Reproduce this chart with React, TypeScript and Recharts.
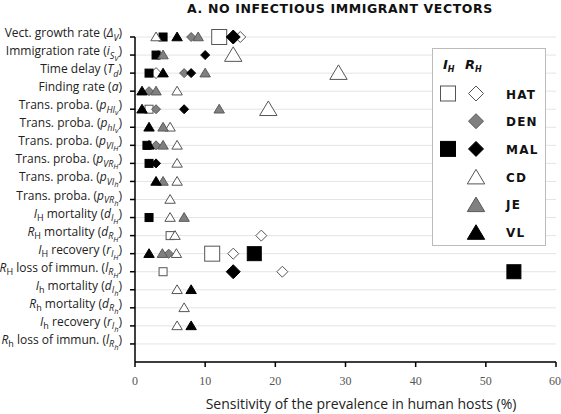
import { ScatterChart, Scatter, XAxis, YAxis, CartesianGrid } from 'recharts';

// Row labels: [text, level (0 normal, 1 sub, 2 sub-sub), italic]
type Seg = [string, number, boolean];
const rowLabels: Seg[][] = [
  [['Vect. growth rate (', 0, false], ['Δ', 0, true], ['V', 1, true], [')', 0, false]],
  [['Immigration rate (', 0, false], ['i', 0, true], ['S', 1, true], ['V', 2, true], [')', 0, false]],
  [['Time delay (', 0, false], ['T', 0, true], ['d', 1, true], [')', 0, false]],
  [['Finding rate (', 0, false], ['a', 0, true], [')', 0, false]],
  [['Trans. proba. (', 0, false], ['p', 0, true], ['HI', 1, true], ['v', 2, true], [')', 0, false]],
  [['Trans. proba. (', 0, false], ['p', 0, true], ['hI', 1, true], ['v', 2, true], [')', 0, false]],
  [['Trans. proba. (', 0, false], ['p', 0, true], ['VI', 1, true], ['H', 2, true], [')', 0, false]],
  [['Trans. proba. (', 0, false], ['p', 0, true], ['VR', 1, true], ['H', 2, true], [')', 0, false]],
  [['Trans. proba. (', 0, false], ['p', 0, true], ['VI', 1, true], ['h', 2, true], [')', 0, false]],
  [['Trans. proba. (', 0, false], ['p', 0, true], ['VR', 1, true], ['h', 2, true], [')', 0, false]],
  [['I', 0, true], ['H', 1, false], [' mortality (', 0, false], ['d', 0, true], ['I', 1, true], ['H', 2, true], [')', 0, false]],
  [['R', 0, true], ['H', 1, false], [' mortality (', 0, false], ['d', 0, true], ['R', 1, true], ['H', 2, true], [')', 0, false]],
  [['I', 0, true], ['H', 1, false], [' recovery (', 0, false], ['r', 0, true], ['I', 1, true], ['H', 2, true], [')', 0, false]],
  [['R', 0, true], ['H', 1, false], [' loss of immun. (', 0, false], ['l', 0, true], ['R', 1, true], ['H', 2, true], [')', 0, false]],
  [['I', 0, true], ['h', 1, false], [' mortality (', 0, false], ['d', 0, true], ['I', 1, true], ['h', 2, true], [')', 0, false]],
  [['R', 0, true], ['h', 1, false], [' mortality (', 0, false], ['d', 0, true], ['R', 1, true], ['h', 2, true], [')', 0, false]],
  [['I', 0, true], ['h', 1, false], [' recovery (', 0, false], ['r', 0, true], ['I', 1, true], ['h', 2, true], [')', 0, false]],
  [['R', 0, true], ['h', 1, false], [' loss of immun. (', 0, false], ['l', 0, true], ['R', 1, true], ['h', 2, true], [')', 0, false]],
];

const xTicks = [0, 10, 20, 30, 40, 50, 60];
const yTicks = [1, 2, 3, 4, 5, 6, 7, 8, 9, 10, 11, 12, 13, 14, 15, 16, 17, 18];

const _ = null;
// sensitivity (%) per row, one array per series
const hatIH = [12, _, _, _, 2, _, _, _, _, _, _, 5, 11, 4, _, _, _, _];
const hatRH = [15, _, 3, _, _, _, _, _, _, _, _, 18, 14, 21, _, _, _, _];
const denRH = [8, 3.3, 7, 2, 3, _, 3, _, _, _, _, _, 4.8, _, _, _, _, _];
const malIH = [4, 3, 2, _, _, _, 1.7, 2, _, _, 2, _, 17, 54, _, _, _, _];
const malRH = [14, 10, 8, _, 7, _, _, 3, _, _, _, _, _, 14, _, _, _, _];
const cd = [3, 14, 29, 6, 19, 5, 6, 6, 6, 5, 5, 5.7, 5.9, _, 6, 7, 6, _];
const je = [9, 4, 10, 3, 12, 4, 4, _, 4, _, 7, _, 3.9, _, _, _, _, _];
const vl = [6, _, 4, 1, 1, 2, 2, _, 3, _, _, _, 2, _, 8, _, 8, _];

// rows where the marker is drawn large
const hatIHLarge = [0, 12];
const malIHLarge = [12, 13];
const malRHLarge = [0, 13];
const cdLarge = [1, 2, 4];

const legendRows = ['HAT', 'DEN', 'MAL', 'CD', 'JE', 'VL'];

const toPoints = (vals: (number | null)[], large: number[] = []) =>
  vals
    .map((v, i) => (v == null ? null : { x: v, y: 18 - i, big: large.includes(i) }))
    .filter(Boolean) as { x: number; y: number; big: boolean }[];

type Kind = 'square' | 'diamond' | 'triangle';

function Marker({ cx, cy, kind, fill, stroke, s }: { cx: number; cy: number; kind: Kind; fill: string; stroke: string; s: number }) {
  if (kind === 'square') {
    return <rect x={cx - s / 2} y={cy - s / 2} width={s} height={s} fill={fill} stroke={stroke} strokeWidth={1} />;
  }
  if (kind === 'diamond') {
    const h = s / 2 + 0.5;
    return (
      <polygon
        points={`${cx},${cy - h} ${cx + h},${cy} ${cx},${cy + h} ${cx - h},${cy}`}
        fill={fill}
        stroke={stroke}
        strokeWidth={1}
      />
    );
  }
  const w = s * 0.58;
  return (
    <polygon
      points={`${cx},${cy - s * 0.55} ${cx + w},${cy + s * 0.42} ${cx - w},${cy + s * 0.42}`}
      fill={fill}
      stroke={stroke}
      strokeWidth={1}
    />
  );
}

const series = [
  { key: 'hatIH', pts: toPoints(hatIH, hatIHLarge), kind: 'square' as Kind, fill: '#fff', stroke: '#555', small: 8, big: 15 },
  { key: 'hatRH', pts: toPoints(hatRH), kind: 'diamond' as Kind, fill: '#fff', stroke: '#555', small: 10, big: 14 },
  { key: 'denRH', pts: toPoints(denRH), kind: 'diamond' as Kind, fill: '#808080', stroke: '#5a5a5a', small: 8, big: 14 },
  { key: 'malIH', pts: toPoints(malIH, malIHLarge), kind: 'square' as Kind, fill: '#000', stroke: '#000', small: 8, big: 14 },
  { key: 'malRH', pts: toPoints(malRH, malRHLarge), kind: 'diamond' as Kind, fill: '#000', stroke: '#000', small: 8, big: 13 },
  { key: 'cd', pts: toPoints(cd, cdLarge), kind: 'triangle' as Kind, fill: '#fff', stroke: '#555', small: 9, big: 15 },
  { key: 'je', pts: toPoints(je), kind: 'triangle' as Kind, fill: '#808080', stroke: '#5a5a5a', small: 9, big: 15 },
  { key: 'vl', pts: toPoints(vl), kind: 'triangle' as Kind, fill: '#000', stroke: '#000', small: 9, big: 15 },
];

const levelOff = [0, 3.5, 6];
const levelSize = [12, 9, 7.5];

function YTick(props: any) {
  const { x, y, payload } = props;
  const segs = rowLabels[18 - payload.value];
  if (!segs) return null;
  let prev = 0;
  return (
    <text x={x} y={y} dy={4} textAnchor="end" fontFamily="'Open Sans', sans-serif" fill="#222">
      {segs.map(([t, lvl, it], i) => {
        const dy = levelOff[lvl] - levelOff[prev];
        prev = lvl;
        return (
          <tspan key={i} dy={dy} fontSize={levelSize[lvl]} fontStyle={it ? 'italic' : 'normal'}>
            {t}
          </tspan>
        );
      })}
    </text>
  );
}

export default function App() {
  return (
    <div style={{ position: 'absolute', left: 0, top: 0, width: 561, height: 414, background: '#fff', overflow: 'hidden' }}>
      <ScatterChart width={561} height={414} margin={{ top: 37, right: 5, bottom: 22, left: 0 }}>
        <CartesianGrid vertical={false} stroke="#e4e4e4" />
        <XAxis
          type="number"
          dataKey="x"
          domain={[0, 60]}
          ticks={xTicks}
          height={30}
          stroke="#000"
          strokeWidth={1.5}
          tickSize={5}
          tickMargin={9}
          tick={{ fontFamily: "'Liberation Serif', serif", fontSize: 12, fill: '#555' }}
        />
        <YAxis
          type="number"
          dataKey="y"
          domain={[0, 18]}
          ticks={yTicks}
          width={135}
          stroke="#000"
          strokeWidth={1.5}
          tickSize={5}
          tickMargin={8}
          interval={0}
          tick={<YTick />}
        />
        {series.map((s) => (
          <Scatter
            key={s.key}
            data={s.pts}
            isAnimationActive={false}
            shape={(p: any) => (
              <Marker cx={p.cx} cy={p.cy} kind={s.kind} fill={s.fill} stroke={s.stroke} s={p.payload.big ? s.big : s.small} />
            )}
          />
        ))}
      </ScatterChart>
      <svg width={561} height={414} style={{ position: 'absolute', left: 0, top: 0, pointerEvents: 'none' }}>
        <text x={340} y={13} textAnchor="middle" fontFamily="'DejaVu Sans', sans-serif" fontWeight="bold" fontSize={12.5} letterSpacing={0.6} fill="#111">
          A. NO INFECTIOUS IMMIGRANT VECTORS
        </text>
        <text x={361} y={409} textAnchor="middle" fontFamily="'Open Sans', sans-serif" fontSize={14} fill="#222">
          Sensitivity of the prevalence in human hosts (%)
        </text>
        <rect x={432.5} y={48.5} width={113} height={197} fill="#fff" stroke="#bbb" />
        <text x={443} y={69} fontFamily="'DejaVu Sans', sans-serif" fontWeight="bold" fontStyle="italic" fontSize={13} fill="#111">
          I<tspan fontSize={8} dy={3}>H</tspan>
        </text>
        <text x={465} y={69} fontFamily="'DejaVu Sans', sans-serif" fontWeight="bold" fontStyle="italic" fontSize={13} fill="#111">
          R<tspan fontSize={8} dy={3}>H</tspan>
        </text>
        {legendRows.map((name, i) => {
          const cy = 93.5 + i * 27.7;
          return (
            <g key={name}>
              {name === 'HAT' && <Marker cx={448} cy={cy} kind="square" fill="#fff" stroke="#555" s={15} />}
              {name === 'MAL' && <Marker cx={448} cy={cy} kind="square" fill="#000" stroke="#000" s={15} />}
              {name === 'HAT' && <Marker cx={476} cy={cy} kind="diamond" fill="#fff" stroke="#555" s={14} />}
              {name === 'DEN' && <Marker cx={476} cy={cy} kind="diamond" fill="#808080" stroke="#5a5a5a" s={14} />}
              {name === 'MAL' && <Marker cx={476} cy={cy} kind="diamond" fill="#000" stroke="#000" s={14} />}
              {name === 'CD' && <Marker cx={476} cy={cy + 1} kind="triangle" fill="#fff" stroke="#555" s={15} />}
              {name === 'JE' && <Marker cx={476} cy={cy + 1} kind="triangle" fill="#808080" stroke="#5a5a5a" s={15} />}
              {name === 'VL' && <Marker cx={476} cy={cy + 1} kind="triangle" fill="#000" stroke="#000" s={15} />}
              <text x={506} y={cy + 5} fontFamily="'DejaVu Sans', sans-serif" fontWeight="bold" fontSize={12} letterSpacing={1.2} fill="#111">
                {name}
              </text>
            </g>
          );
        })}
      </svg>
    </div>
  );
}
